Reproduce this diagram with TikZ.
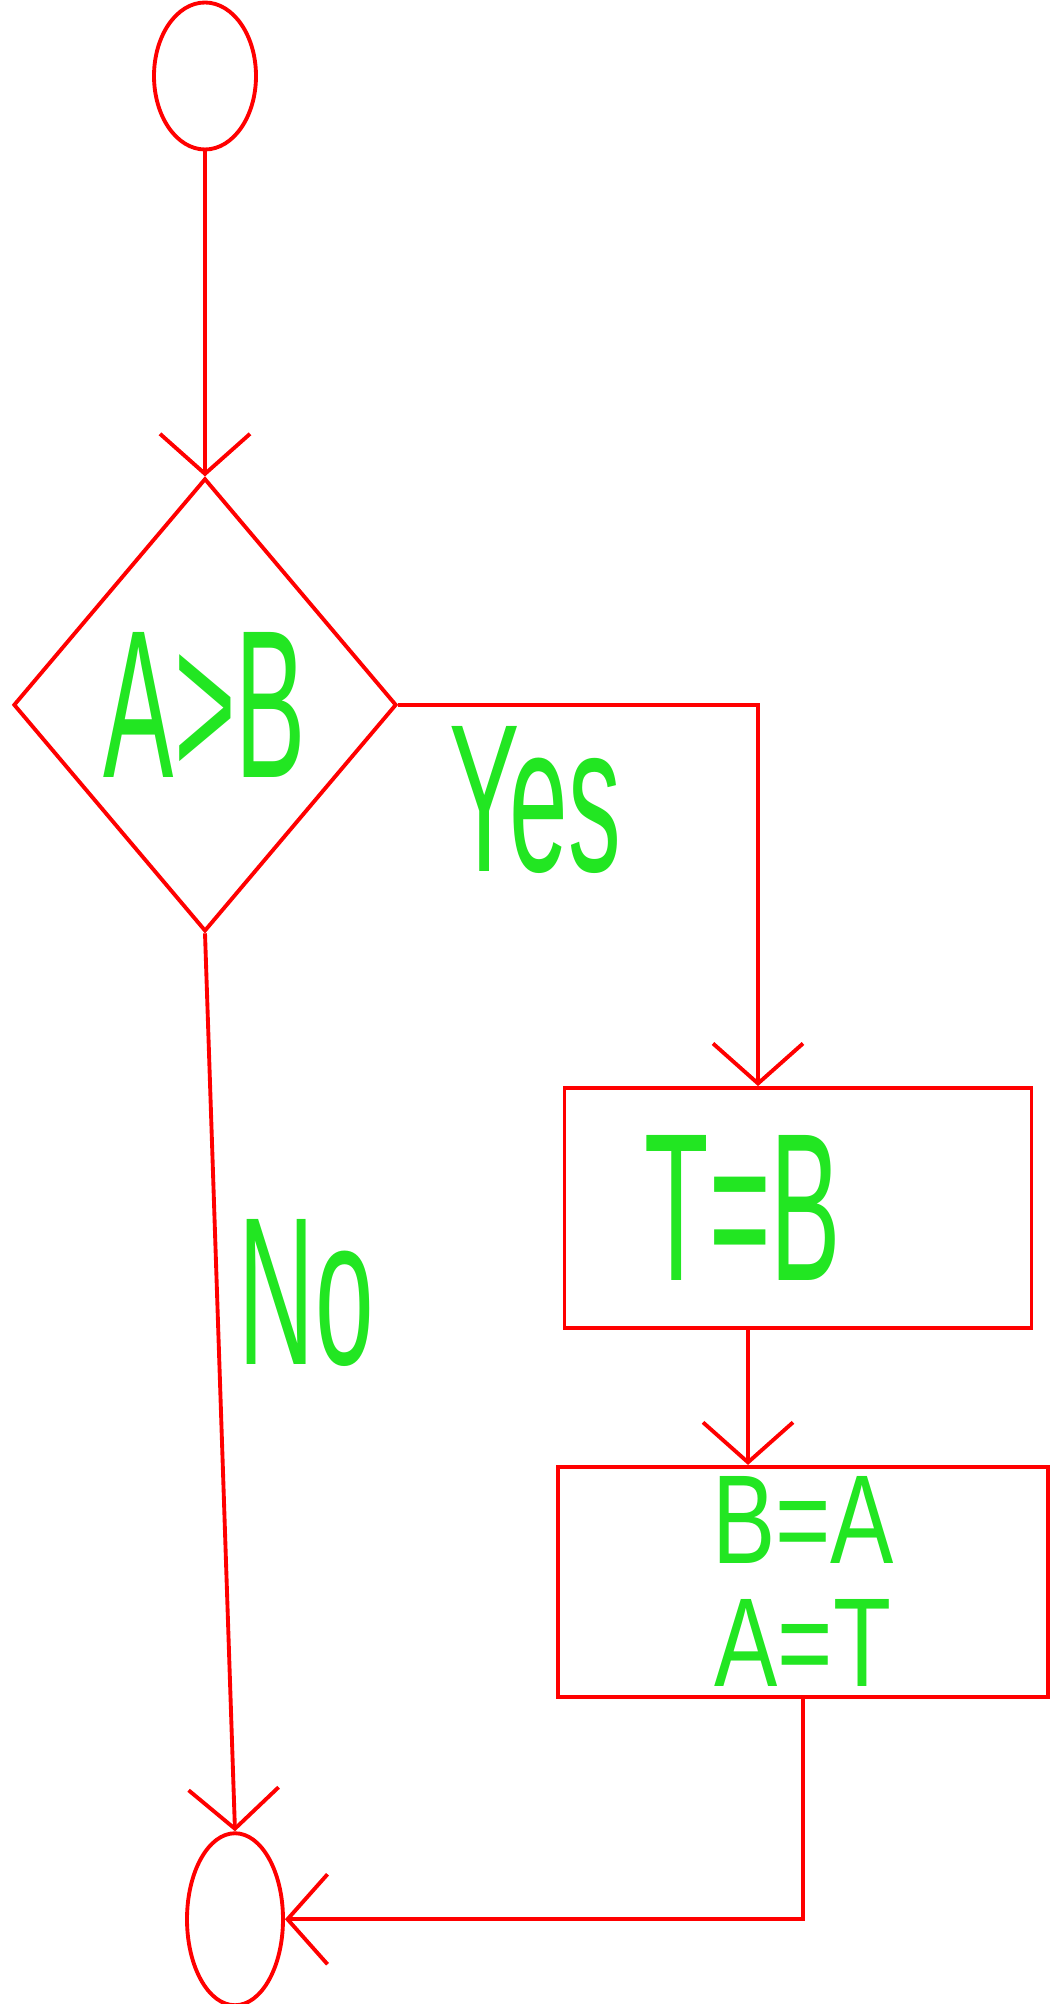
\documentclass[tikz,border=0pt]{standalone}
\usepackage{fontspec}
\setmainfont{Liberation Sans}
\usepackage{graphicx}
\usepackage{tikz}
\usetikzlibrary{arrows.meta, positioning, shapes.geometric}
\definecolor{rouge}{HTML}{FF0000}
\definecolor{vert}{HTML}{22E622}
\newcommand{\etroit}[2][0.5]{\scalebox{#1}[1]{#2}}
\tikzset{
  trait/.style={draw=rouge, line width=1.1pt},
  terminal/.style={ellipse, trait, inner sep=0, minimum width=10.2mm,
    minimum height=14.7mm},
  decision/.style={diamond, trait, inner sep=0, minimum width=38.3mm,
    minimum height=45.3mm, text=vert, font=\fontsize{60}{60}\selectfont},
  bloc/.style={rectangle, trait, inner sep=0, text=vert, align=center,
    font=\fontsize{60}{60}\selectfont},
  fleche/.style={-{Straight Barb[length=4mm, width=9mm]}, rouge, line width=1.1pt},
  etiquette/.style={text=vert, inner sep=0, font=\fontsize{60}{60}\selectfont}
}

\begin{document}
\begin{tikzpicture}[node distance=5mm]
    \useasboundingbox (0,0) rectangle (10.52,-20.04);
    \node[terminal] (debut) at (2.05,-0.76) {};
    \node[decision, below=3.25cm of debut] (test) {\etroit{A>B}};
    \node[bloc, minimum width=46.7mm, minimum height=24mm] (echange1) at (7.98,-12.08)
          {\etroit{T=B}\hspace{11mm}};
    \node[bloc, minimum width=49mm, minimum height=23mm,
          font=\fontsize{36}{35}\selectfont, below=13.5mm of echange1, xshift=0.5mm] (echange2)
          {\etroit[0.75]{B=A}\hspace{5mm}\\ \etroit[0.75]{A=T}\hspace{5mm}};
    \node[terminal, minimum width=9.6mm, minimum height=17.2mm,
          below=8.98cm of test, xshift=3mm] (fin) {};

    \draw[fleche] (debut) -- (test);
    \draw[fleche] (test.east) -| node[etiquette, below=2mm, pos=0.19]{\etroit{Yes}}
          ([xshift=-4mm]echange1.north);
    \draw[fleche] ([xshift=-5mm]echange1.south) -- ([xshift=-5.5mm]echange2.north);
    \draw[fleche] (test.south) -- node[etiquette, right=2mm, pos=0.4]{\etroit{No}} (fin.north);
    \draw[fleche] (echange2.south) |- (fin.east);
\end{tikzpicture}
\end{document}
